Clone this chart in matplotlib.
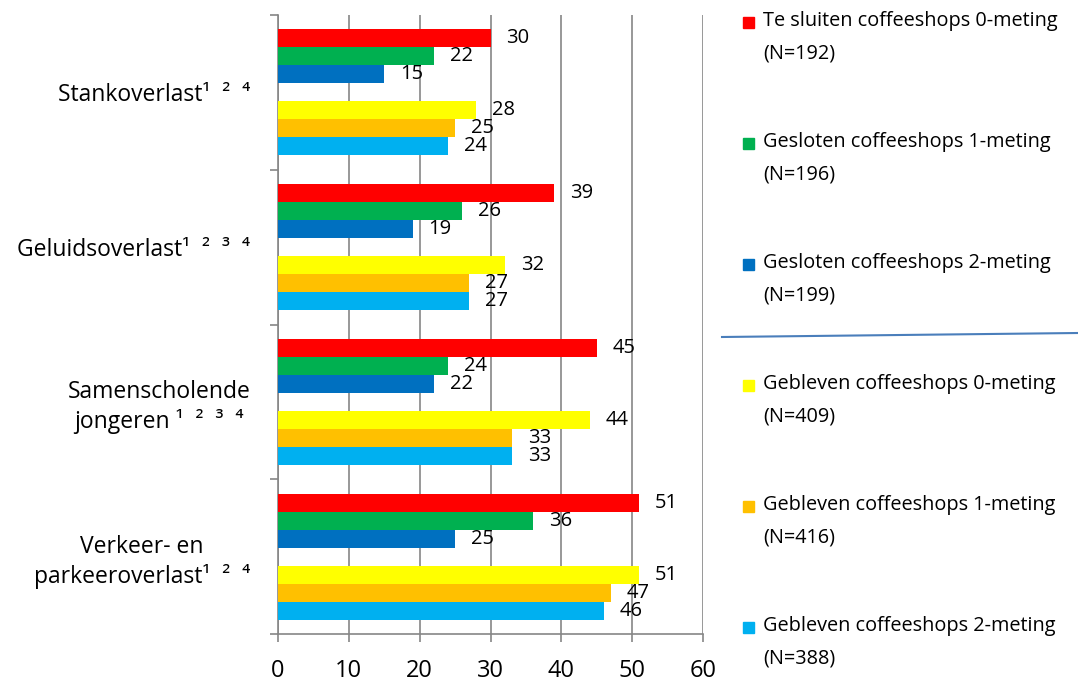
import matplotlib.pyplot as plt
from matplotlib.lines import Line2D
from matplotlib.patches import Rectangle
import numpy as np

categories = [
    "Stankoverlast\u00b9  \u00b2  \u2074",
    "Geluidsoverlast\u00b9  \u00b2  \u00b3  \u2074",
    "Samenscholende\njongeren \u00b9  \u00b2  \u00b3  \u2074",
    "Verkeer- en\nparkeeroverlast\u00b9  \u00b2  \u2074",
]
series_labels = [
    "Te sluiten coffeeshops 0-meting\n(N=192)",
    "Gesloten coffeeshops 1-meting\n(N=196)",
    "Gesloten coffeeshops 2-meting\n(N=199)",
    "Gebleven coffeeshops 0-meting\n(N=409)",
    "Gebleven coffeeshops 1-meting\n(N=416)",
    "Gebleven coffeeshops 2-meting\n(N=388)",
]
series_colors = ["#FF0000", "#00B050", "#0070C0", "#FFFF00", "#FFC000", "#00B0F0"]
# values per series, categories in order above
values = [
    [30, 39, 45, 51],
    [22, 26, 24, 36],
    [15, 19, 22, 25],
    [28, 32, 44, 51],
    [25, 27, 33, 47],
    [24, 27, 33, 46],
]
x_ticks = [0, 10, 20, 30, 40, 50, 60]

plt.rcParams["font.family"] = ["Open Sans", "DejaVu Sans"]
grid_color = "#868686"

fig = plt.figure(figsize=(10.78, 6.84), dpi=100)
W, H = 1078, 684
ax = fig.add_axes([278 / W, 1 - 634 / H, (703 - 278) / W, (634 - 15) / H])

spacing = 8.6
offsets = [-3, -2, -1, 1, 2, 3]
centers = np.arange(len(categories)) * spacing

for s, (vals, col) in enumerate(zip(values, series_colors)):
    y = centers + offsets[s]
    ax.barh(y, vals, height=1.0, color=col, zorder=3)
    for yi, v in zip(y, vals):
        ax.annotate(str(v), (v, yi), xytext=(11.5, 0), textcoords="offset points",
                    ha="left", va="center", fontsize=14.5, color="black", zorder=4)

ax.set_xlim(0, 60)
ax.set_ylim(centers[-1] + spacing / 2, centers[0] - spacing / 2)
ax.set_xticks(x_ticks)
ax.set_xticklabels([str(t) for t in x_ticks], fontsize=17)
ax.tick_params(axis="x", length=6, width=1.2, color=grid_color, pad=12, direction="out")
ax.grid(axis="x", color=grid_color, linewidth=1.2, zorder=0)

ax.set_yticks(centers)
ax.set_yticklabels(categories, fontsize=16.5, multialignment="center",
                   linespacing=1.25)
ax.tick_params(axis="y", length=0, pad=20)
bounds = np.append(centers - spacing / 2, centers[-1] + spacing / 2)
ax.set_yticks(bounds, minor=True)
ax.tick_params(axis="y", which="minor", length=6, width=1.2, color=grid_color)

for side in ["top", "right"]:
    ax.spines[side].set_visible(False)
for side in ["left", "bottom"]:
    ax.spines[side].set_color(grid_color)
    ax.spines[side].set_linewidth(1.2)

# legend on the right, drawn by hand
for i, (lab, col) in enumerate(zip(series_labels, series_colors)):
    yc = 22 + 121 * i
    fig.patches.append(Rectangle((743 / W, 1 - (yc + 6) / H), 11 / W, 11 / H,
                                 transform=fig.transFigure, color=col))
    fig.text(763 / W, 1 - (yc - 11) / H, lab, fontsize=14.3, va="top", ha="left",
             linespacing=1.85)

fig.lines.append(Line2D([722 / W, 1.0], [1 - 337 / H, 1 - 333 / H],
                        transform=fig.transFigure, color="#4A7EBB", linewidth=1.5))

fig.savefig("out.png", dpi=100)
